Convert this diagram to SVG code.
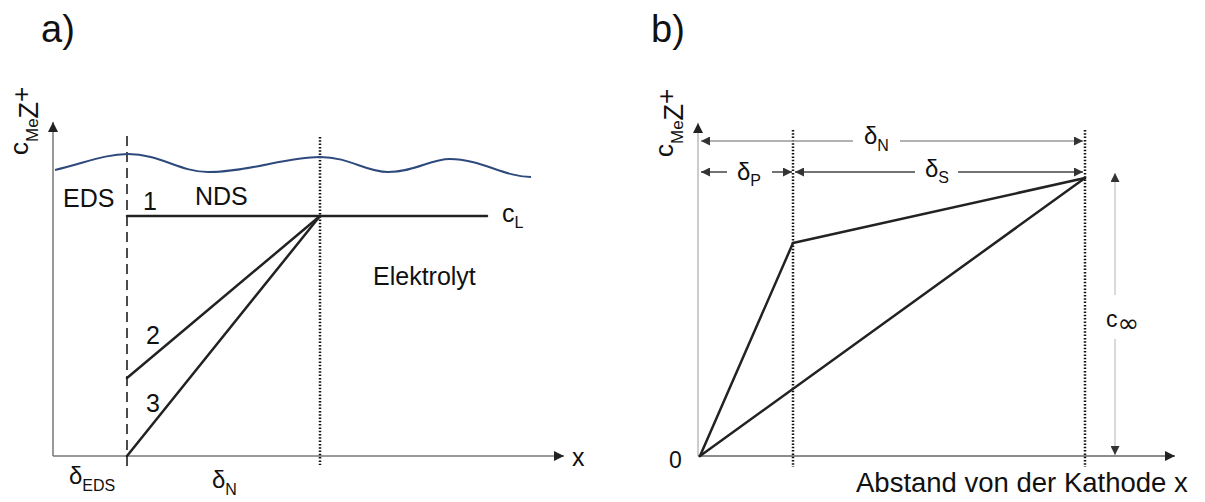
<svg xmlns="http://www.w3.org/2000/svg" width="1205" height="502" viewBox="0 0 1205 502">
<defs>
<marker id="ah" viewBox="0 0 10 10" refX="10" refY="5" markerWidth="10" markerHeight="10" markerUnits="userSpaceOnUse" orient="auto-start-reverse">
<path d="M0,0 L10,5 L0,10 Z" fill="#222"/>
</marker>
<marker id="ahs" viewBox="0 0 10 10" refX="10" refY="5" markerWidth="9" markerHeight="9" markerUnits="userSpaceOnUse" orient="auto-start-reverse">
<path d="M0,0 L10,5 L0,10 Z" fill="#333"/>
</marker>
</defs>
<style>
text{font-family:"Liberation Sans",Arial,sans-serif;fill:#111}
.lbl{font-size:25px}
.big{font-size:38px}
.d{font-size:24px}
.sub{font-size:16px}
.axisA{stroke:#777;stroke-width:1.5;fill:none}
.curve{stroke:#222;stroke-width:2.5;fill:none;stroke-linecap:round}
.dot{stroke:#111;stroke-width:2.5;stroke-dasharray:1.5 1.8;fill:none}
.dash{stroke:#111;stroke-width:1.5;stroke-dasharray:10 6;fill:none}
.yl{font-size:26px}
.yls{font-size:17px}
</style>
<rect width="1205" height="502" fill="#fff"/>

<g id="panel-a">
<text class="big" x="41" y="42">a)</text>
<g id="a-ylabel" transform="translate(28,155) rotate(-90)">
<text x="0" y="0" class="yl">c<tspan dy="10" class="yls">Me</tspan><tspan style="font-size:27px">Z</tspan><tspan dy="-8" class="yl">+</tspan></text>
</g>
<g id="a-connectors">
<line class="axisA" x1="53" y1="456" x2="53" y2="122" marker-end="url(#ah)"/>
<line class="axisA" x1="53" y1="456" x2="564" y2="456" marker-end="url(#ah)"/>
<line class="dash" x1="127" y1="136" x2="127" y2="466"/>
<line class="dot" x1="320" y1="137" x2="320" y2="465"/>
<path d="M55,170 C85,163 105,154 128,154 C160,154 180,172 208,172 C250,172 285,157 320,157 C350,157 365,172 388,172 C415,172 430,159 450,159 C480,159 505,177 531,177" fill="none" stroke="#2E4A7C" stroke-width="2"/>
<line class="curve" x1="127" y1="216" x2="487" y2="216"/>
<line class="curve" x1="127" y1="378" x2="320" y2="216"/>
<line class="curve" x1="127" y1="456" x2="320" y2="216"/>
</g>
<g id="a-labels">
<text class="lbl" x="63" y="207">EDS</text>
<text class="lbl" x="143" y="210">1</text>
<text class="lbl" x="195" y="205">NDS</text>
<text x="502" y="222" style="font-size:25px">c<tspan dy="6" class="sub">L</tspan></text>
<text class="lbl" x="373" y="285">Elektrolyt</text>
<text class="lbl" x="146" y="344">2</text>
<text class="lbl" x="146" y="412">3</text>
<text x="572" y="466" style="font-size:25px">x</text>
<text class="d" x="69" y="484">δ<tspan dy="7" class="sub">EDS</tspan></text>
<text class="d" x="212" y="488">δ<tspan dy="7" class="sub">N</tspan></text>
</g>
</g>

<g id="panel-b">
<text class="big" x="651" y="42">b)</text>
<g id="b-ylabel" transform="translate(673,157) rotate(-90)">
<text x="0" y="0" class="yl">c<tspan dy="10" class="yls">Me</tspan><tspan style="font-size:27px">Z</tspan><tspan dy="-8" class="yl">+</tspan></text>
</g>
<g id="b-connectors">
<line x1="698" y1="456" x2="698" y2="123" stroke="#bbb" stroke-width="1.5" marker-end="url(#ah)"/>
<line x1="698" y1="456" x2="1175" y2="456" stroke="#666" stroke-width="1.5" marker-end="url(#ah)"/>
<line class="dot" x1="793" y1="130" x2="793" y2="467"/>
<line class="dot" x1="1085" y1="130" x2="1085" y2="467"/>
<line class="curve" x1="700" y1="456" x2="793" y2="243"/>
<line class="curve" x1="793" y1="243" x2="1085" y2="178"/>
<line class="curve" x1="700" y1="456" x2="1085" y2="178"/>
<line x1="853" y1="141" x2="701" y2="141" stroke="#999" stroke-width="1.5" marker-end="url(#ahs)"/>
<line x1="900" y1="141" x2="1083" y2="141" stroke="#999" stroke-width="1.5" marker-end="url(#ahs)"/>
<line x1="727" y1="172" x2="701" y2="172" stroke="#444" stroke-width="1.5" marker-end="url(#ahs)"/>
<line x1="772" y1="172" x2="792" y2="172" stroke="#444" stroke-width="1.5" marker-end="url(#ahs)"/>
<line x1="915" y1="172" x2="795" y2="172" stroke="#444" stroke-width="1.5" marker-end="url(#ahs)"/>
<line x1="958" y1="172" x2="1083" y2="172" stroke="#444" stroke-width="1.5" marker-end="url(#ahs)"/>
<line x1="1115" y1="295" x2="1115" y2="173" stroke="#ccc" stroke-width="1.5" marker-end="url(#ahs)"/>
<line x1="1115" y1="339" x2="1115" y2="455" stroke="#ccc" stroke-width="1.5" marker-end="url(#ahs)"/>
</g>
<g id="b-labels">
<text class="d" x="864" y="144">δ<tspan dy="7" class="sub">N</tspan></text>
<text class="d" x="737" y="180">δ<tspan dy="6" class="sub">P</tspan></text>
<text class="d" x="925" y="177">δ<tspan dy="6" class="sub">S</tspan></text>
<text x="1106" y="327" style="font-size:23px">c<tspan dy="5" style="font-size:26px;font-family:'DejaVu Sans',sans-serif">∞</tspan></text>
<text x="669" y="468" style="font-size:23px">0</text>
<text x="856" y="492" style="font-size:27.5px">Abstand von der Kathode x</text>
</g>
</g>
</svg>
